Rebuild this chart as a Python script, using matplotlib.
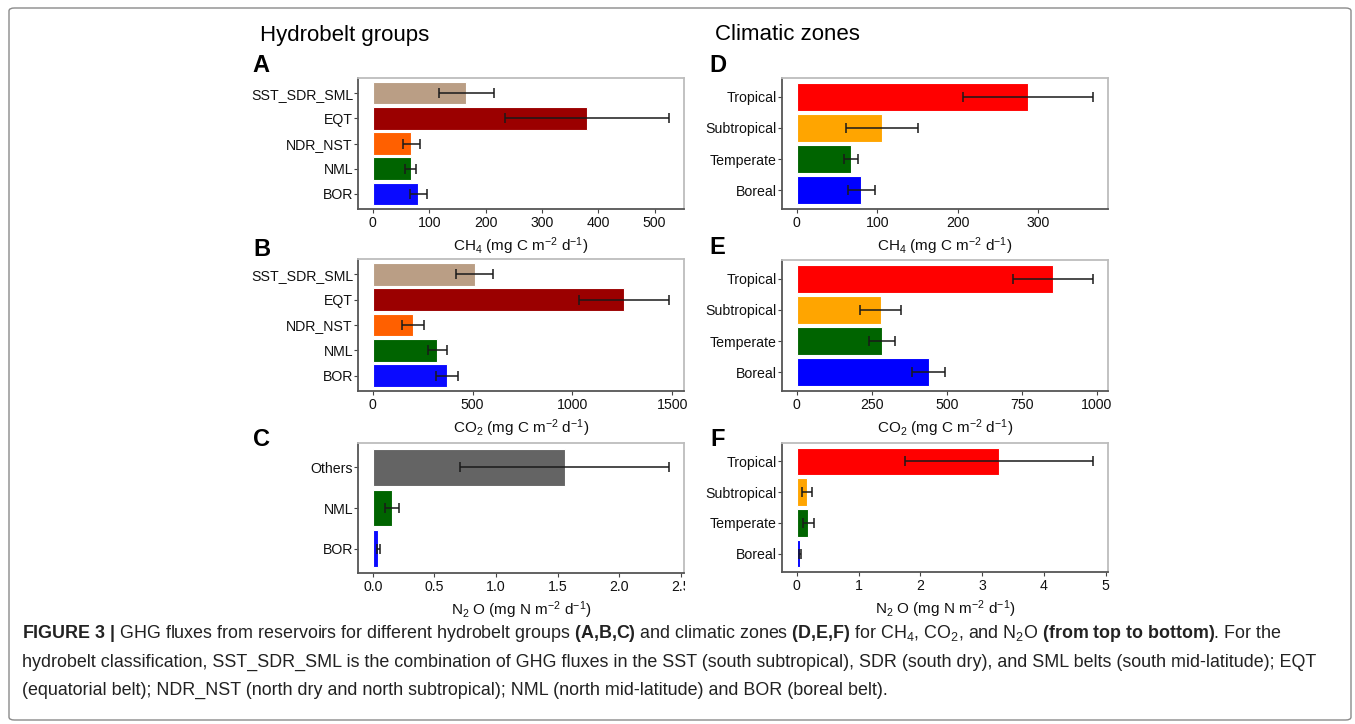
import numpy as np
import matplotlib.pyplot as plt
from matplotlib.patches import FancyBboxPatch
from matplotlib.transforms import Bbox

plt.rcParams['font.family'] = ['Liberation Sans', 'DejaVu Sans']
plt.rcParams['mathtext.fontset'] = 'custom'
plt.rcParams['mathtext.rm'] = 'Liberation Sans'
plt.rcParams['mathtext.bf'] = 'Liberation Sans:bold'
plt.rcParams['mathtext.it'] = 'Liberation Sans:italic'

W, H = 1355, 724

# hydrobelt groups (left column), listed top to bottom
belt_labels = ['SST_SDR_SML', 'EQT', 'NDR_NST', 'NML', 'BOR']
belt_colors = ['#BA9E85', '#9B0000', '#FF6000', '#006400', '#0A0AFF']
belt_ch4 = [166, 380, 68, 67, 81]
belt_ch4_err = [49, 146, 15, 10, 14.5]
belt_co2 = [510, 1260, 200, 323, 370]
belt_co2_err = [92, 225, 55, 47, 55]

n2o_labels = ['Others', 'NML', 'BOR']
n2o_colors = ['#646464', '#006400', '#0A0AFF']
belt_n2o = [1.557, 0.157, 0.043]
belt_n2o_err = [0.848, 0.058, 0.013]

# climatic zones (right column)
zone_labels = ['Tropical', 'Subtropical', 'Temperate', 'Boreal']
zone_colors = ['#FF0000', '#FFA500', '#006400', '#0000FF']
zone_ch4 = [287, 105.5, 67.4, 80]
zone_ch4_err = [81, 45, 9, 17]
zone_co2 = [855, 279, 284, 439]
zone_co2_err = [133, 67, 42, 55]
zone_n2o = [3.28, 0.162, 0.189, 0.049]
zone_n2o_err = [1.52, 0.076, 0.087, 0.011]

ch4_label = r'CH$_4$ (mg C m$^{-2}$ d$^{-1}$)'
co2_label = r'CO$_2$ (mg C m$^{-2}$ d$^{-1}$)'
n2o_label = r'N$_2$ O (mg N m$^{-2}$ d$^{-1}$)'

fig = plt.figure(figsize=(W / 100, H / 100), dpi=100)


def bar_panel(box, labels, vals, errs, colors, ticks, ticklabels, xlabel):
    l, t, r, b = box
    ax = fig.add_axes([l / W, 1 - b / H, (r - l) / W, (b - t) / H])
    n = len(labels)
    y = np.arange(n, 0, -1)
    vals = np.array(vals)
    errs = np.array(errs)
    ax.barh(y, vals, height=0.9, color=colors, edgecolor='white', linewidth=0.8)
    ax.errorbar(vals, y, xerr=errs, fmt='none', ecolor='#1a1a1a',
                elinewidth=1.1, capsize=3.5, capthick=1.1)
    xmax = (vals + errs).max()
    ax.set_xlim(-0.05 * xmax, 1.05 * xmax)
    ax.set_ylim(0.4, n + 0.6)
    ax.set_yticks(y)
    ax.set_yticklabels(labels)
    ax.set_xticks(ticks)
    ax.set_xticklabels(ticklabels)
    ax.tick_params(labelsize=10.2, colors='#444444', labelcolor='#111111',
                   length=2.8, width=0.8)
    ax.tick_params(axis='y', pad=0.8)
    ax.tick_params(axis='x', pad=2)
    for s in ['top', 'right']:
        ax.spines[s].set_color('#bdbdbd')
        ax.spines[s].set_linewidth(1.3)
    for s in ['left', 'bottom']:
        ax.spines[s].set_color('#555555')
        ax.spines[s].set_linewidth(1.3)
    ax.set_xlabel(xlabel, fontsize=11, labelpad=4, color='#111111')
    return ax


bar_panel((358, 78, 684, 209), belt_labels, belt_ch4, belt_ch4_err, belt_colors,
          [0, 100, 200, 300, 400, 500], ['0', '100', '200', '300', '400', '500'], ch4_label)
bar_panel((358, 259, 684, 391), belt_labels, belt_co2, belt_co2_err, belt_colors,
          [0, 500, 1000, 1500], ['0', '500', '1000', '1500'], co2_label)
axc = bar_panel((358, 443, 684, 573), n2o_labels, belt_n2o, belt_n2o_err, n2o_colors,
                [0, 0.5, 1.0, 1.5, 2.0, 2.5], ['0.0', '0.5', '1.0', '1.5', '2.0', '2.5'], n2o_label)
bar_panel((782, 78, 1108, 209), zone_labels, zone_ch4, zone_ch4_err, zone_colors,
          [0, 100, 200, 300], ['0', '100', '200', '300'], ch4_label)
bar_panel((782, 260, 1108, 391), zone_labels, zone_co2, zone_co2_err, zone_colors,
          [0, 250, 500, 750, 1000], ['0', '250', '500', '750', '1000'], co2_label)
bar_panel((782, 443, 1108, 572), zone_labels, zone_n2o, zone_n2o_err, zone_colors,
          [0, 1, 2, 3, 4, 5], ['0', '1', '2', '3', '4', '5'], n2o_label)

# the last tick label of panel C is cut off at the panel edge in the original
clip = Bbox.from_extents(0, 0, 685, H)
lab = axc.xaxis.get_major_ticks()[-1].label1
lab.set_clip_on(True)
lab.set_clip_box(clip)

# column titles and panel letters
fig.text(260 / W, 1 - 35 / H, 'Hydrobelt groups', fontsize=16, va='center', ha='left')
fig.text(715 / W, 1 - 35 / H, 'Climatic zones', fontsize=16, va='center', ha='left')
letters = [('A', 252, 65), ('B', 253, 249), ('C', 253, 440),
           ('D', 709, 65), ('E', 709, 248), ('F', 710, 440)]
for ch, x, y in letters:
    fig.text(x / W, 1 - y / H, ch, fontsize=17, fontweight='bold',
             va='center', ha='left')

# caption
cap1 = (r'$\mathbf{FIGURE\ 3\ |}$ GHG fluxes from reservoirs for different hydrobelt groups '
        r'$\mathbf{(A{,}B{,}C)}$ and climatic zones $\mathbf{(D{,}E{,}F)}$ for CH$_4$, CO$_2$, and N$_2$O '
        r'$\mathbf{(from\ top\ to\ bottom)}$. For the')
cap2 = ('hydrobelt classification, SST_SDR_SML is the combination of GHG fluxes in the SST '
        '(south subtropical), SDR (south dry), and SML belts (south mid-latitude); EQT')
cap3 = ('(equatorial belt); NDR_NST (north dry and north subtropical); NML (north mid-latitude) '
        'and BOR (boreal belt).')
for txt, y in [(cap1, 633), (cap2, 662), (cap3, 690)]:
    fig.text(22 / W, 1 - y / H, txt, fontsize=12.9, va='center', ha='left', color='#222222')

border = FancyBboxPatch((9 / W, 1 - 720 / H), 1342 / W, 712 / H,
                        boxstyle='round,pad=0,rounding_size=0.004',
                        transform=fig.transFigure, fill=False,
                        edgecolor='#8a8a8a', linewidth=1)
fig.patches.append(border)

fig.savefig('out.png', dpi=100)
